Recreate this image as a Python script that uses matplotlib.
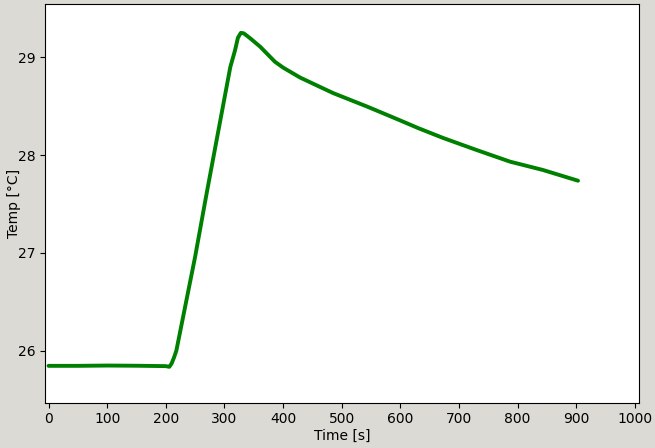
import matplotlib
matplotlib.use("Agg")
from matplotlib import pyplot as plt

# Temperature log
time_s = [0, 50, 100, 150, 200, 206, 210, 214, 218, 225, 250, 270, 290, 310,
          318, 323, 328, 333, 344, 361, 386, 400, 429, 485, 543, 598, 630, 673,
          730, 787, 843, 903]
temp_c = [25.845, 25.845, 25.848, 25.846, 25.842, 25.835, 25.87, 25.93, 26.00,
          26.21, 26.96, 27.62, 28.26, 28.90, 29.07, 29.20, 29.25, 29.245,
          29.194, 29.108, 28.955, 28.895, 28.793, 28.635, 28.497, 28.359,
          28.277, 28.175, 28.052, 27.933, 27.848, 27.738]

x_ticks = [0, 100, 200, 300, 400, 500, 600, 700, 800, 900, 1000]
y_ticks = [26, 27, 28, 29]

fig = plt.figure(figsize=(6.55, 4.48), dpi=100, facecolor="#dcdad5")
ax = fig.add_axes([0.0687, 0.1011, 0.9069, 0.8893])
ax.set_facecolor("white")

# thick green trace like the dense marker line in the original
ax.plot(time_s, temp_c, color="green", linewidth=2.8, solid_capstyle="round")

ax.set_xlim(-6, 1007)
ax.set_ylim(25.468, 29.542)
ax.set_xticks(x_ticks)
ax.set_yticks(y_ticks)
ax.set_xlabel("Time [s]", labelpad=2)
ax.set_ylabel("Temp [°C]")
# anchor is the right edge of the rotated label
ax.yaxis.set_label_coords(-0.040, 0.5)

plt.savefig("out.png", dpi=100, facecolor=fig.get_facecolor())
